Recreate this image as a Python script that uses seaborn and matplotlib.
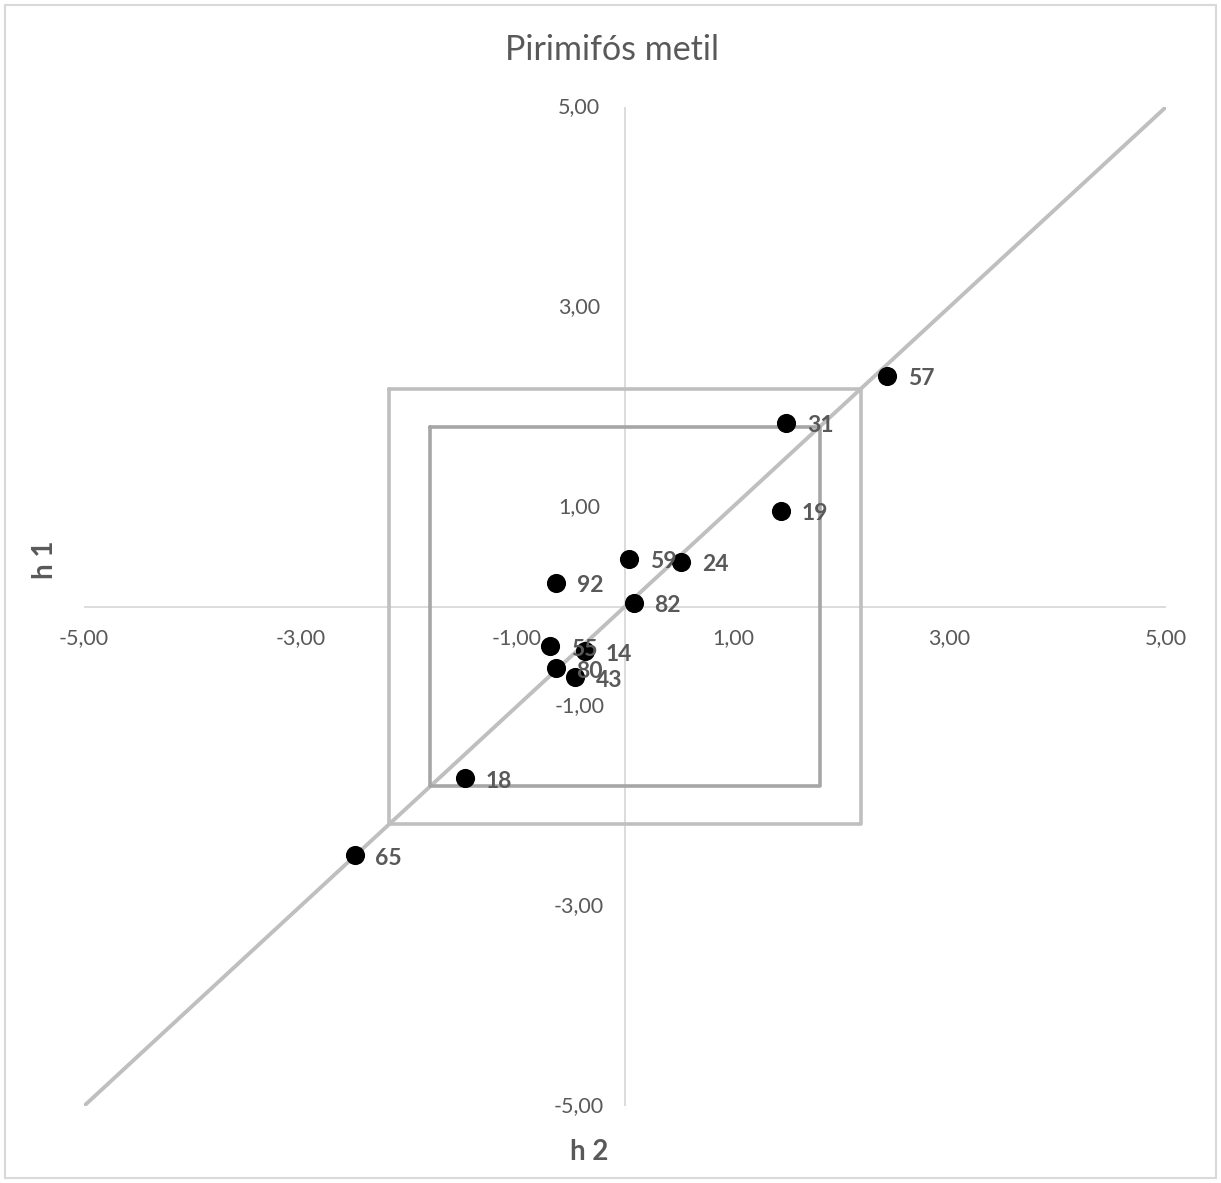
import matplotlib
matplotlib.use("Agg")
import matplotlib.pyplot as plt
import seaborn as sns
import pandas as pd
import numpy as np
from matplotlib.patches import Rectangle

sns.set_theme(style="white")
plt.rcParams['font.family'] = ['Lato', 'DejaVu Sans']

labels = ["57", "31", "19", "59", "24", "92", "82", "55", "14", "80", "43", "18", "65"]
h2 = [2.42, 1.49, 1.44, 0.04, 0.52, -0.64, 0.08, -0.69, -0.37, -0.64, -0.46, -1.48, -2.50]
h1 = [2.31, 1.84, 0.96, 0.48, 0.45, 0.24, 0.04, -0.40, -0.45, -0.62, -0.71, -1.72, -2.49]

diag_x = [-5, 5]
diag_y = [-5, 5]
outer_limit = 2.18
inner_limit = 1.80
ticks = [-5, -3, -1, 1, 3, 5]
tick_labels = ["-5,00", "-3,00", "-1,00", "1,00", "3,00", "5,00"]

df = pd.DataFrame({"h2": h2, "h1": h1, "label": labels})

fig = plt.figure(figsize=(12.21, 11.83), dpi=100)
ax = fig.add_axes([84/1221, 1 - 1106/1183, (1166-84)/1221, (1106-107)/1183])

# border around figure
fig.patches.append(Rectangle((0.004, 0.004), 0.992, 0.992, transform=fig.transFigure,
                             fill=False, edgecolor="#d9d9d9", linewidth=1.5))

ax.set_xlim(-5, 5)
ax.set_ylim(-5, 5)

# axes through zero
ax.axhline(0, color="#d9d9d9", lw=1.3, zorder=0)
ax.axvline(0, color="#d9d9d9", lw=1.3, zorder=0)

# diagonal
sns.lineplot(x=diag_x, y=diag_y, ax=ax, color="#bfbfbf", lw=2.8, zorder=1)

# boxes
for lim, col in [(outer_limit, "#bfbfbf"), (inner_limit, "#a6a6a6")]:
    bx = [-lim, lim, lim, -lim, -lim]
    by = [lim, lim, -lim, -lim, lim]
    ax.plot(bx, by, color=col, lw=2.6, zorder=1)

sns.scatterplot(data=df, x="h2", y="h1", ax=ax, color="black", s=190,
                edgecolor="black", linewidth=0, zorder=3, legend=False)

for x, y, t in zip(h2, h1, labels):
    ax.annotate(t, (x, y), xytext=(15, -2), textcoords="offset points",
                fontsize=16.5, fontweight="bold", color="#595959",
                ha="left", va="center", zorder=4)

for s in ax.spines.values():
    s.set_visible(False)
ax.set_xticks([])
ax.set_yticks([])
ax.set_xlabel("")
ax.set_ylabel("")

# tick labels along the zero axes
for v, t in zip(ticks, tick_labels):
    ax.annotate(t, (v, 0), xytext=(0, -23), textcoords="offset points",
                ha="center", va="center", fontsize=15.5, color="#595959")
    ax.annotate(t, (0, v), xytext=(-33, 0), textcoords="offset points",
                ha="center", va="center", fontsize=15.5, color="#595959")

fig.text(612/1221, 1 - 50/1183, "Pirimifós metil", ha="center", va="center",
         fontsize=24.5, color="#595959")
fig.text(45/1221, 1 - 560/1183, "h 1", ha="center", va="center", rotation=90,
         fontsize=20, fontweight="bold", color="#595959")
fig.text(589/1221, 1 - 1152/1183, "h 2", ha="center", va="center",
         fontsize=20, fontweight="bold", color="#595959")

fig.savefig("out.png", dpi=100, facecolor="white")
